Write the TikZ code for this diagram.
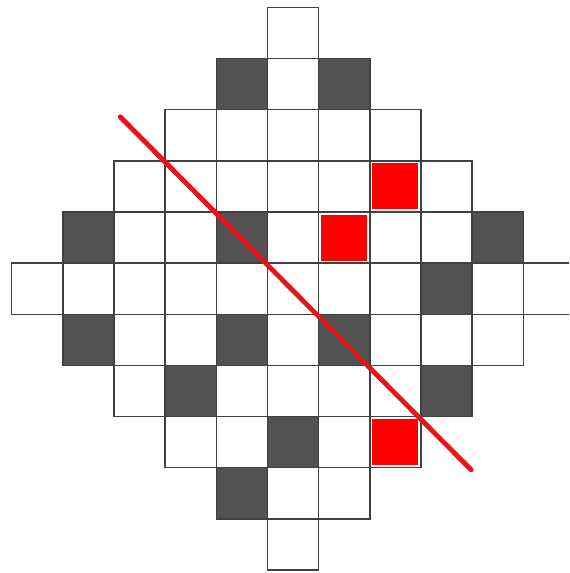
\documentclass[tikz,border=0pt]{standalone}
\usepackage{tikz}
\usetikzlibrary{calc}
\definecolor{cutred}{RGB}{230,20,28}

\begin{document}
\begin{tikzpicture}[x=1cm, y=1cm]
		\def\R{5}\def\ins{0.05}
		\tikzset{cellbox/.style={draw=black!75, line width=0.8pt},
			darkcell/.style={fill=black!68},
			redcell/.style={fill=red},
			cutline/.style={draw=cutred, line width=2.7pt, line cap=round}}
		\clip (-5.729,-5.557) rectangle (5.393,5.643);
		\useasboundingbox (-5.729,-5.557) rectangle (5.393,5.643);
		% shaded squares
		\foreach \i/\j in {-1/4,1/4,-4/1,-1/1,4/1,3/0,-4/-1,-1/-1,1/-1,-2/-2,3/-2,0/-3,-1/-4}
			\fill[darkcell] (\i-0.5,\j-0.5) rectangle (\i+0.5,\j+0.5);
		% diamond of cells
		\foreach \i in {-\R,...,\R} {
			\foreach \j in {-\R,...,\R} {
				\pgfmathtruncatemacro{\d}{abs(\i)+abs(\j)}
				\ifnum\d>\R\else
					\draw[cellbox] (\i-0.5,\j-0.5) rectangle (\i+0.5,\j+0.5);
				\fi
			}
		}
		% red squares
		\foreach \i/\j in {2/2,1/1,2/-3}
			\fill[redcell] (\i-0.5+\ins,\j-0.5+\ins) rectangle (\i+0.5-\ins,\j+0.5-\ins);
		% the cut
		\coordinate (A) at (-3.38,3.36);
		\coordinate (B) at (3.48,-3.54);
		\draw[cutline] (A) -- (B);
	\end{tikzpicture}
\end{document}
